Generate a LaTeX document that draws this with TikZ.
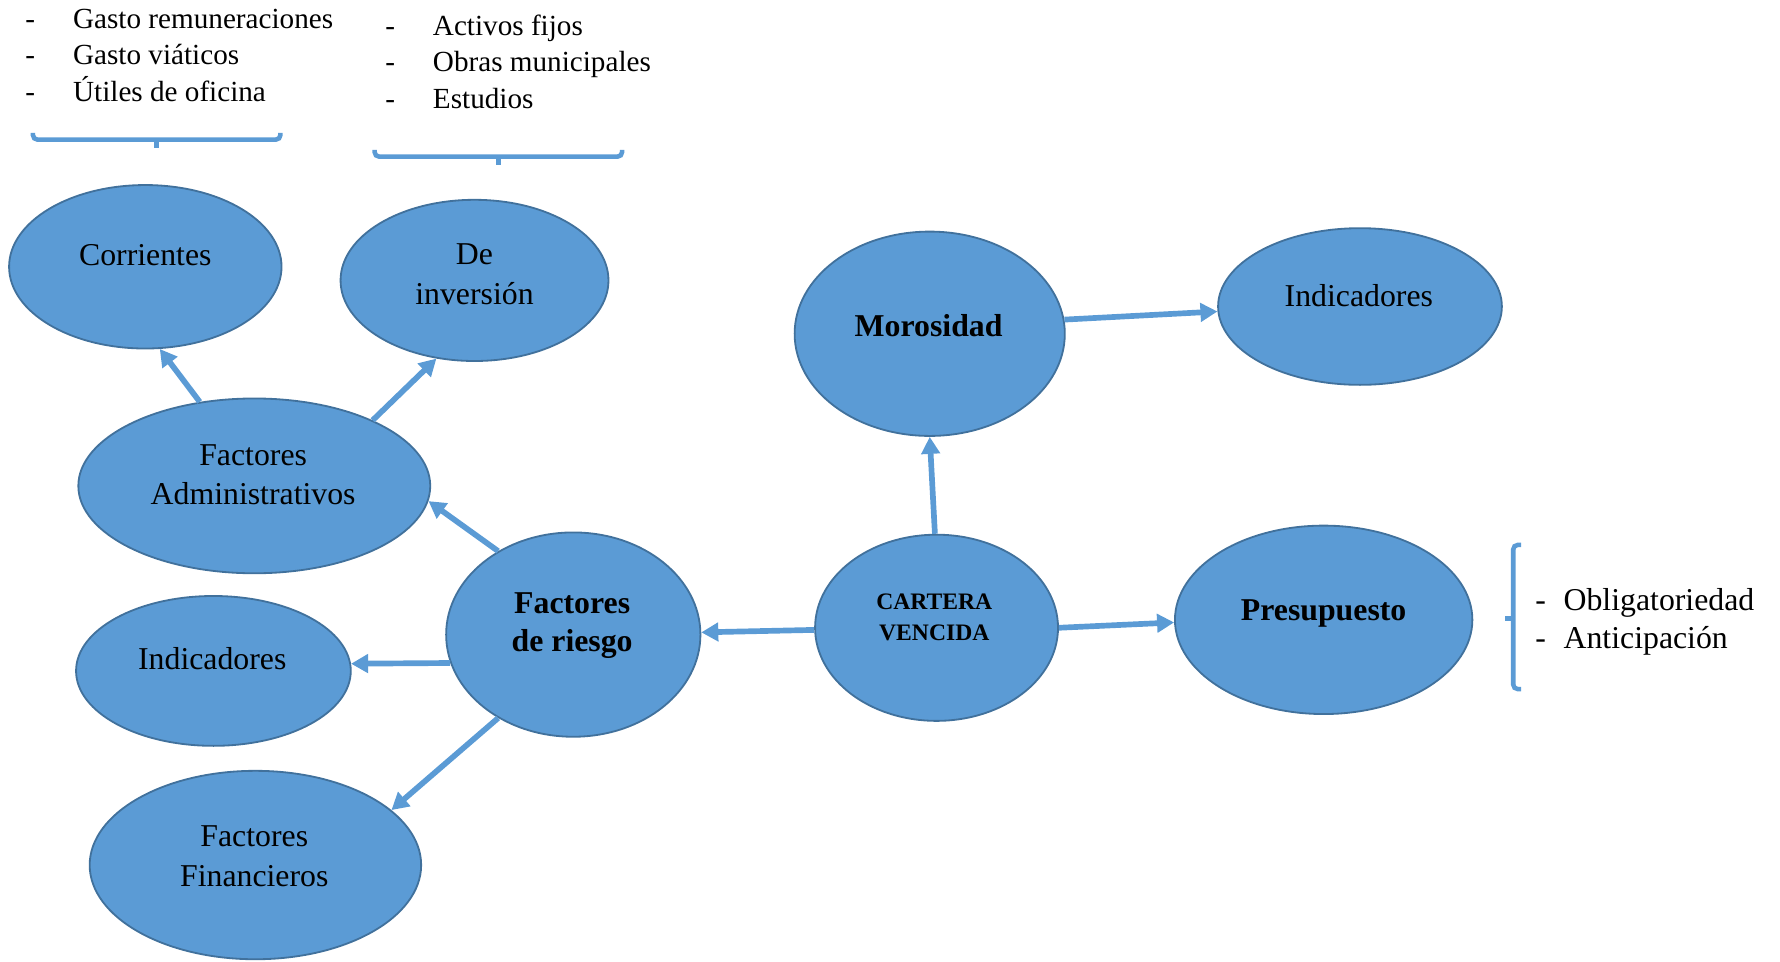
\documentclass[tikz,border=0pt]{standalone}
\usepackage{fontspec}
\setmainfont{Liberation Serif}
\usetikzlibrary{shapes.geometric,arrows.meta}
\definecolor{ellfill}{HTML}{5B9BD5}
\definecolor{elldraw}{HTML}{41719C}
\definecolor{arrblue}{HTML}{5B9BD5}
\begin{document}
\begin{tikzpicture}[x=0.5pt,y=-0.5pt,
  ell/.style={ellipse,draw=elldraw,line width=0.8pt,fill=ellfill,inner sep=0pt},
  lbl/.style={anchor=base,inner sep=0pt,font=\fontsize{14}{16}\selectfont},
  blbl/.style={anchor=base,inner sep=0pt,font=\fontsize{14}{16}\selectfont\bfseries},
  slbl/.style={anchor=base,inner sep=0pt,font=\fontsize{10.4}{12}\selectfont\bfseries},
  conn/.style={draw=arrblue,line width=2.5pt,-{Triangle[length=7.5pt,width=8pt]}},
  brk/.style={draw=arrblue,line width=2pt,rounded corners=2pt},
  tick/.style={draw=arrblue,line width=2pt},
  itm/.style={anchor=base west,inner sep=0pt,font=\fontsize{12.85}{15}\selectfont},
  ritm/.style={anchor=base west,inner sep=0pt,font=\fontsize{14}{16}\selectfont},
]
\useasboundingbox (0,0) rectangle (1568,847);

% ellipses
\node[ell,minimum width=120pt,minimum height=72pt] (cor) at (128,235) {};
\node[ell,minimum width=118pt,minimum height=71pt] (inv) at (418,247) {};
\node[ell,minimum width=155pt,minimum height=77pt] (fa) at (224,428) {};
\node[ell,minimum width=121pt,minimum height=66pt] (indl) at (188,591) {};
\node[ell,minimum width=146pt,minimum height=83pt] (fin) at (225,762) {};
\node[ell,minimum width=112pt,minimum height=90pt] (fr) at (505,559) {};
\node[ell,minimum width=107pt,minimum height=82pt] (cv) at (825,553) {};
\node[ell,minimum width=119pt,minimum height=90pt] (mor) at (819,294) {};
\node[ell,minimum width=125pt,minimum height=69pt] (indr) at (1198,270) {};
\node[ell,minimum width=131pt,minimum height=83pt] (pre) at (1166,546) {};

% labels
\node[lbl] (tcor) at (128,234) {Corrientes};
\node[lbl] (tinv1) at (418,233) {De};
\node[lbl] (tinv2) at (418,268) {inversión};
\node[lbl] (tfa1) at (223,410) {Factores};
\node[lbl] (tfa2) at (223,444) {Administrativos};
\node[lbl] (tindl) at (187,590) {Indicadores};
\node[lbl] (tfin1) at (224,746) {Factores};
\node[lbl] (tfin2) at (224,781) {Financieros};
\node[blbl] (tfr1) at (504,540) {Factores};
\node[blbl] (tfr2) at (504,574) {de riesgo};
\node[slbl] (tcv1) at (823,537) {CARTERA};
\node[slbl] (tcv2) at (823,564) {VENCIDA};
\node[blbl] (tmor) at (818,296) {Morosidad};
\node[lbl] (tindr) at (1197,270) {Indicadores};
\node[blbl] (tpre) at (1166,547) {Presupuesto};

% connectors
\draw[conn] (fa.123.3) -- (cor.280.4);
\draw[conn] (fa.29.4) -- (inv.244.7);
\draw[conn] (fr.132.9) -- (fa.355.3);
\draw[conn] (fr.193.2) -- (indl.3.3);
\draw[conn] (fr.228.3) -- (fin.22.5);
\draw[conn] (cv.181.6) -- (fr.1.5);
\draw[conn] (cv.91.4) -- (mor.270.6);
\draw[conn] (cv.0.5) -- (pre.181.3);
\draw[conn] (mor.6.2) -- (indr.182.7);

% brackets
\draw[brk] (29,117) -- (29,123) -- (247,123) -- (247,117);
\draw[tick] (138,123) -- (138,130);
\draw[brk] (330,132) -- (330,138) -- (548,138) -- (548,132);
\draw[tick] (439,138) -- (439,145);
\draw[brk] (1340,480) -- (1333,480) -- (1333,607) -- (1340,607);
\draw[tick] (1333,545) -- (1326,545);

% lists
\node[itm] (a1) at (22,25) {-};
\node[itm] (a2) at (22,57) {-};
\node[itm] (a3) at (22,89.5) {-};
\node[itm] (b1) at (64,25) {Gasto remuneraciones};
\node[itm] (b2) at (64,57) {Gasto viáticos};
\node[itm] (b3) at (64,89.5) {Útiles de oficina};
\node[itm] (c1) at (339,31) {-};
\node[itm] (c2) at (339,63) {-};
\node[itm] (c3) at (339,95.5) {-};
\node[itm] (e1) at (381,31) {Activos fijos};
\node[itm] (e2) at (381,63) {Obras municipales};
\node[itm] (e3) at (381,95.5) {Estudios};
\node[ritm] (f1) at (1352,538) {-};
\node[ritm] (f2) at (1352,571) {-};
\node[ritm] (g1) at (1377,538) {Obligatoriedad};
\node[ritm] (g2) at (1377,571) {Anticipación};
\end{tikzpicture}
\end{document}
